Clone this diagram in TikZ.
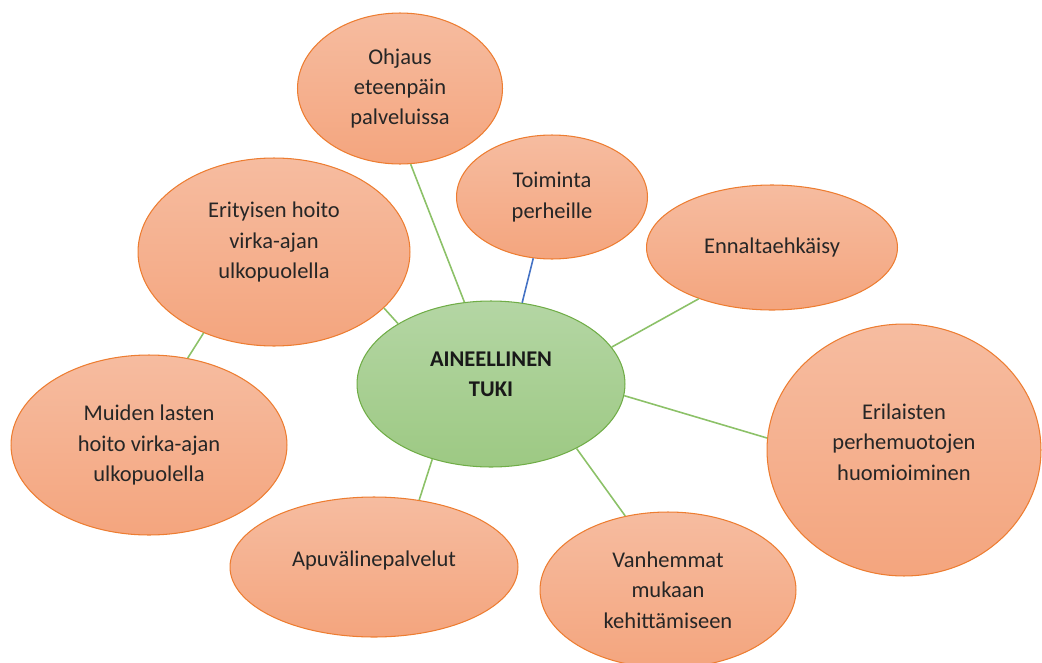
\documentclass[tikz,border=0pt]{standalone}
\usepackage{fontspec}
\setmainfont{Carlito}
\usetikzlibrary{shapes.geometric}
\definecolor{orTop}{RGB}{246,188,160}
\definecolor{orBot}{RGB}{244,165,126}
\definecolor{orLine}{RGB}{237,125,49}
\definecolor{grTop}{RGB}{180,214,164}
\definecolor{grBot}{RGB}{157,201,131}
\definecolor{grLine}{RGB}{112,173,71}
\definecolor{conGreen}{RGB}{140,193,104}
\definecolor{conBlue}{RGB}{68,114,196}
\tikzset{
  bub/.style={ellipse, inner sep=0pt, draw=orLine, line width=0.6pt,
    top color=orTop, bottom color=orBot, align=center,
    font=\fontsize{12.8}{17.3}\selectfont, text=black!85},
  hub/.style={ellipse, inner sep=0pt, draw=grLine, line width=0.6pt,
    top color=grTop, bottom color=grBot, align=center,
    font=\fontsize{12.8}{17.3}\selectfont\bfseries, text=black!90},
  con/.style={draw=conGreen, line width=0.9pt},
  conb/.style={draw=conBlue, line width=0.9pt}
}
\begin{document}
\begin{tikzpicture}[x=0.02cm,y=-0.02cm]
\useasboundingbox (0,0) rectangle (1042,663);

\node[hub, minimum width=5.36cm, minimum height=3.32cm, text depth=11pt] (C) at (491,384) {AINEELLINEN\\TUKI};
\node[bub, minimum width=4.10cm, minimum height=3.02cm] (ohj) at (400,88.5) {Ohjaus\\eteenpäin\\palveluissa};
\node[bub, minimum width=3.82cm, minimum height=2.48cm] (toi) at (552,197) {Toiminta\\perheille};
\node[bub, minimum width=5.02cm, minimum height=2.50cm] (enn) at (772,247.5) {Ennaltaehkäisy};
\node[bub, minimum width=5.44cm, minimum height=3.76cm, text depth=13pt] (eri) at (274,252) {Erityisen hoito\\virka-ajan\\ulkopuolella};
\node[bub, minimum width=5.52cm, minimum height=3.60cm] (mui) at (149,445) {Muiden lasten\\hoito virka-ajan\\ulkopuolella};
\node[bub, minimum width=5.48cm, minimum height=5.04cm, text depth=9pt] (erl) at (904,450) {Erilaisten\\perhemuotojen\\huomioiminen};
\node[bub, minimum width=5.76cm, minimum height=2.80cm, text depth=10pt] (apu) at (374,567) {Apuvälinepalvelut};
\node[bub, minimum width=5.12cm, minimum height=3.12cm] (van) at (668,590) {Vanhemmat\\mukaan\\kehittämiseen};

\draw[con] (ohj.-82.6) -- (C.108.9);
\draw[conb] (toi.-107) -- (C.69.3);
\draw[con] (enn.-145) -- (C.17.9);
\draw[con] (erl.175.3) -- (C.-5.6);
\draw[con] (van.120) -- (C.-37.5);
\draw[con] (apu.56.5) -- (C.-128.7);
\draw[con] (eri.-27.6) -- (C.147.9);
\draw[con] (eri.-131.1) -- (mui.66.6);
\end{tikzpicture}
\end{document}
